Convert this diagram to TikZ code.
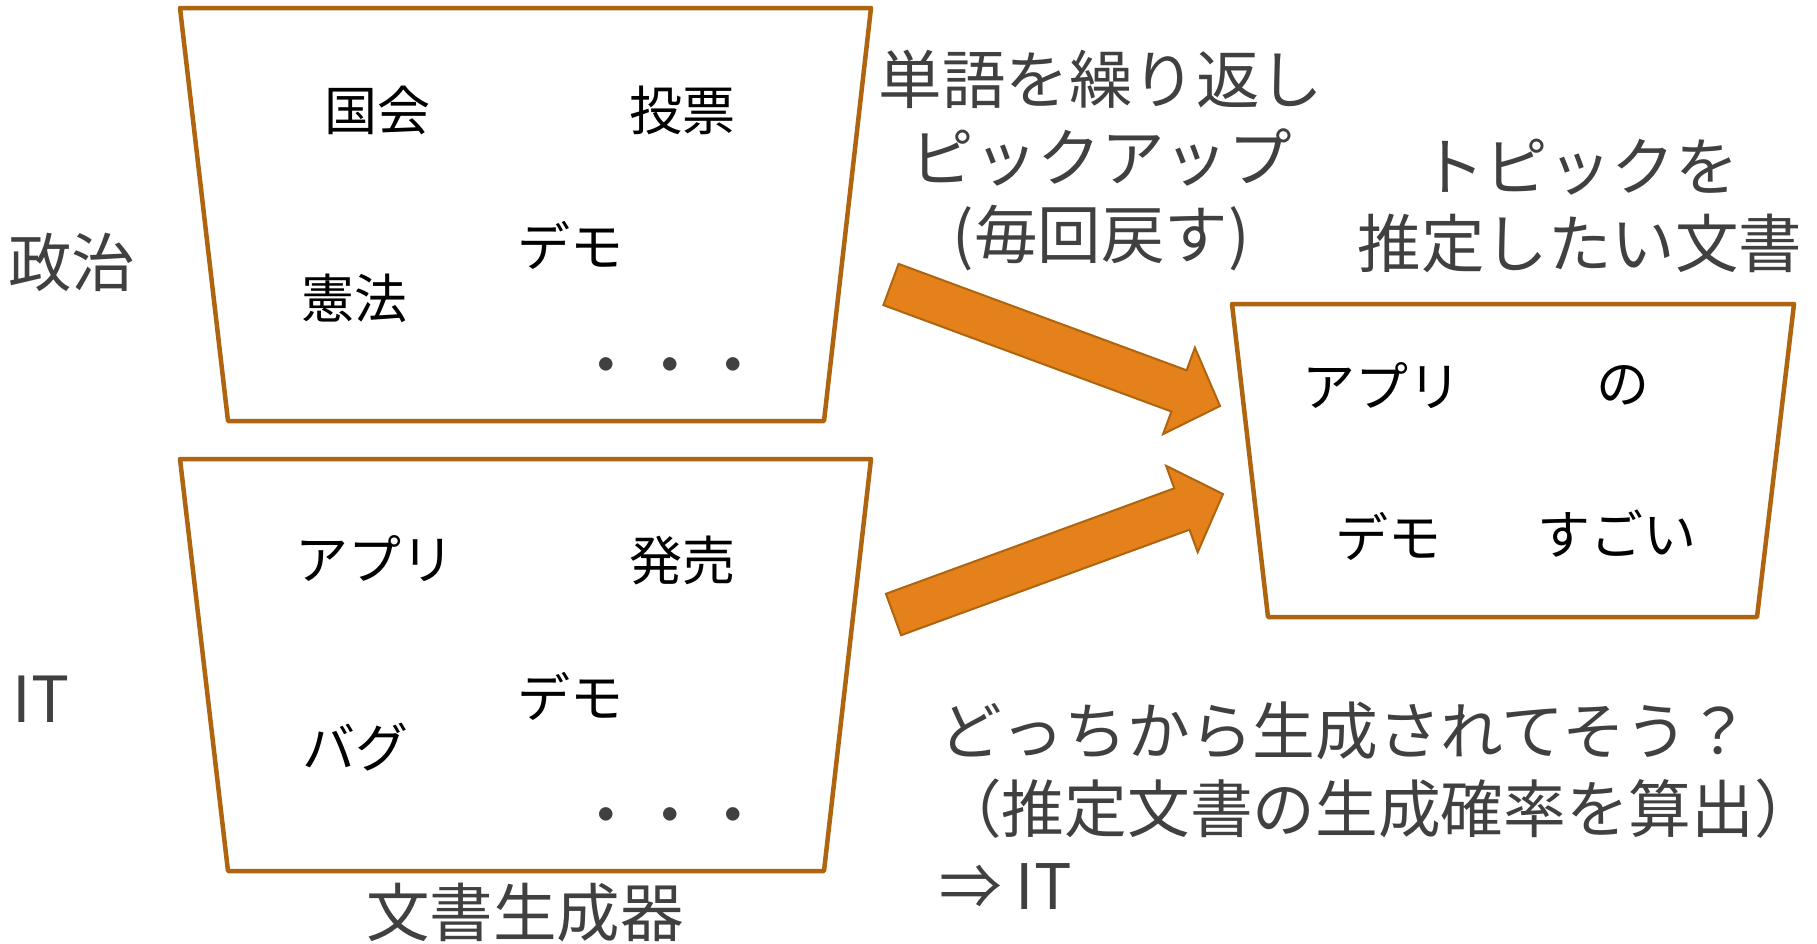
\documentclass[tikz,border=0pt]{standalone}
\usepackage{fontspec}
\setmainfont{Noto Sans CJK JP}
\definecolor{boxline}{HTML}{AF640F}
\definecolor{arrowfill}{HTML}{E4811A}
\definecolor{labelgray}{HTML}{404040}
\tikzset{
  genbox/.style={draw=boxline, line width=4.5pt, fill=white, line join=round},
  bigarrow/.style={draw=boxline, fill=arrowfill, line width=2pt, line join=miter},
  graylabel/.style={text=labelgray, font=\fontsize{63.5}{77.5}\selectfont, inner sep=0pt, align=center},
  grayone/.style={graylabel, text height=55.9pt, text depth=7.6pt},
  word/.style={text=black, font=\fontsize{53}{64}\selectfont, inner sep=0pt, text height=46.6pt, text depth=6.4pt},
}
\begin{document}
\begin{tikzpicture}[x=1pt,y=-1pt]
\useasboundingbox (0,0) rectangle (1817,943);
\fill[white] (0,0) rectangle (1817,943);

% generator boxes
\draw[genbox] (180,8) -- (871,8) -- (824,421) -- (228,421) -- cycle;
\draw[genbox] (180,459) -- (871,459) -- (824,871) -- (228,871) -- cycle;
% target document box
\draw[genbox] (1232,304) -- (1794,304) -- (1757,617) -- (1268,617) -- cycle;

% arrows
\draw[bigarrow] (898.6,263.9) -- (1186.6,370.3) -- (1194.9,347.7) -- (1220,406)
  -- (1163.1,434.1) -- (1171.4,411.5) -- (883.4,305.1) -- cycle;
\draw[bigarrow] (885.9,593.8) -- (1174.3,488.3) -- (1166.1,465.8) -- (1223,494)
  -- (1197.7,552.2) -- (1189.5,529.7) -- (901.1,635.2) -- cycle;

% left labels
\node[grayone] (seiji) at (72,262) {政治};
\node[grayone] (it) at (41,698) {IT};
\node[grayone] (gen) at (525,912) {文書生成器};

% politics box words
\node[word] (kokkai) at (377,110) {国会};
\node[word] (touhyou) at (682,110) {投票};
\node[word] (demo1) at (570,246) {デモ};
\node[word] (kenpou) at (354,298) {憲法};
\node[grayone] (dots1) at (670,364) {・・・};

% IT box words
\node[word] (apuri1) at (375,559) {アプリ};
\node[word] (hatsubai) at (682,560) {発売};
\node[word] (demo2) at (570,697) {デモ};
\node[word] (bagu) at (355,747) {バグ};
\node[grayone] (dots2) at (670,814) {・・・};

% target words
\node[word] (apuri2) at (1382,386) {アプリ};
\node[word] (no) at (1623,383) {の};
\node[word] (demo3) at (1388,537) {デモ};
\node[word] (sugoi) at (1617,534) {すごい};

% explanations
\node[graylabel] (pick) at (1101,161) {単語を繰り返し\\ピックアップ\\(毎回戻す)};
\node[graylabel] (topic) at (1580,206) {トピックを\\推定したい文書};
\node[graylabel, font=\fontsize{62.7}{77.5}\selectfont, align=left, anchor=west] (which) at (939,806)
  {どっちから生成されてそう？\\（推定文書の生成確率を算出）\\⇒ IT};
\end{tikzpicture}
\end{document}
